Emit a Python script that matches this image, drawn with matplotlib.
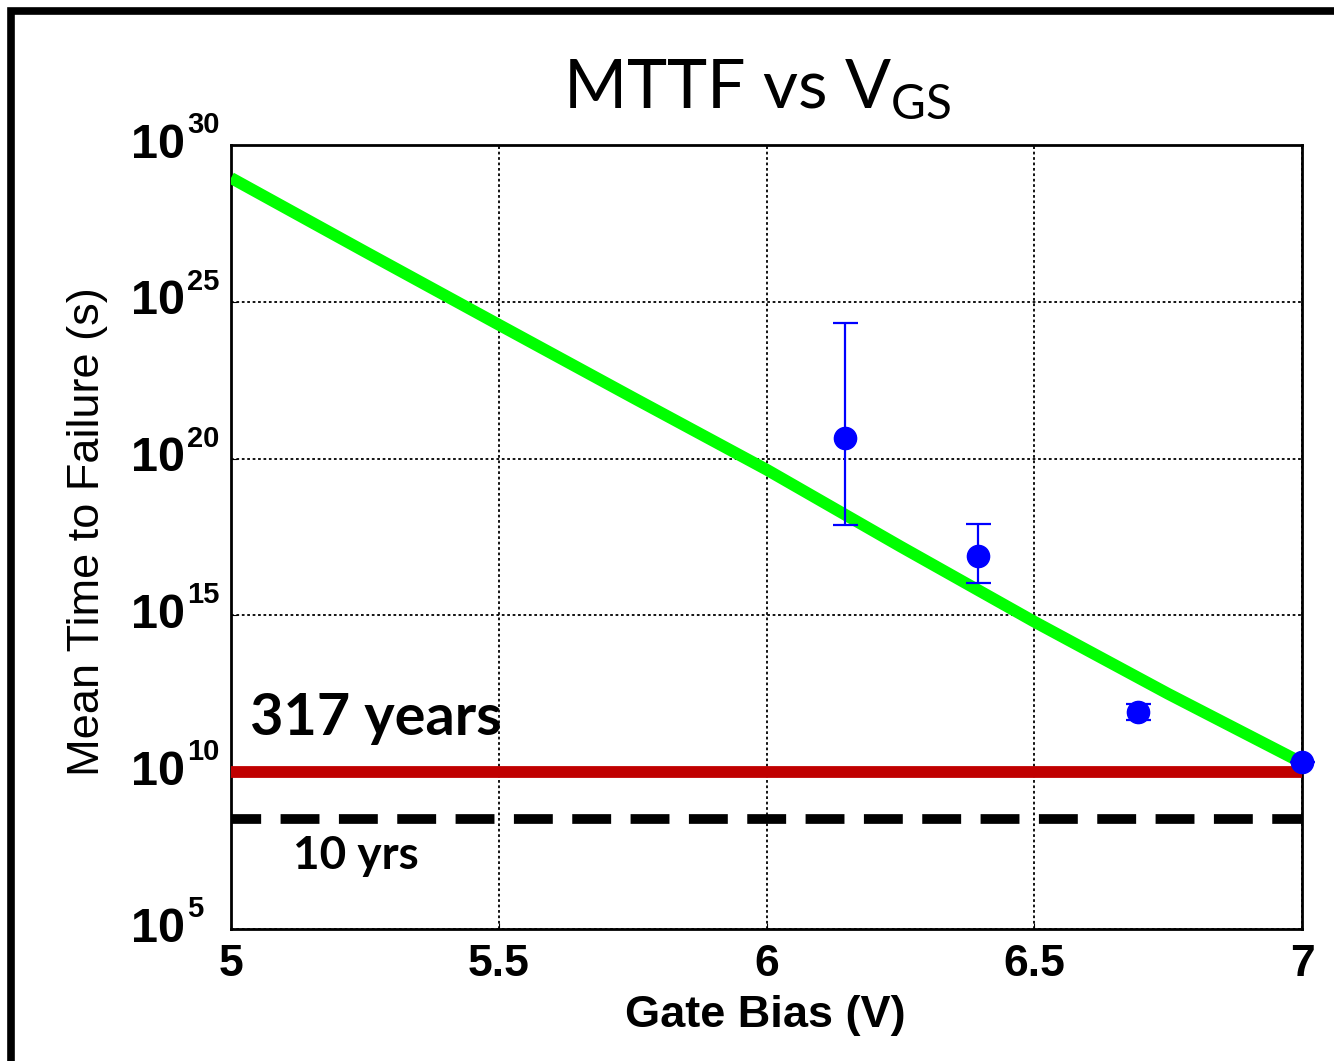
import numpy as np
import matplotlib
matplotlib.use("Agg")
import matplotlib.pyplot as plt
from matplotlib.patches import Rectangle

# ── Data ────────────────────────────────────────────────────
fit_vgs = [5.0, 5.25, 5.5, 5.75, 6.0, 6.25, 6.5, 6.75, 7.0]
fit_log_mttf = [28.95, 26.6, 24.27, 21.95, 19.65, 17.2, 14.8, 12.5, 10.3]

meas_vgs = [6.147, 6.395, 6.694, 7.0]
meas_log_mttf = [20.67, 16.91, 11.91, 10.32]
meas_log_hi = [24.33, 17.93, 12.17, 10.32]
meas_log_lo = [17.87, 16.02, 11.66, 10.32]

limit_317yr = 1e10
limit_10yr = 10 * 365.25 * 24 * 3600

y_decades = [5, 10, 15, 20, 25, 30]
x_ticks = [5, 5.5, 6, 6.5, 7]
x_tick_labels = ["5", "5.5", "6", "6.5", "7"]

# ── Style ───────────────────────────────────────────────────
plt.rcParams["mathtext.fontset"] = "custom"
plt.rcParams["mathtext.rm"] = "Lato"

W, H = 1334, 1061
PT = 72 / 100  # points per pixel
fig = plt.figure(figsize=(W / 100, H / 100), dpi=100)
fig.patch.set_facecolor("white")

# thick frame around the slide (cropped on right / bottom)
fig.patches.append(Rectangle((11 / W, -0.05), 1.2, 1 - 11 / H + 0.05,
                             transform=fig.transFigure, fill=False,
                             edgecolor="black", linewidth=5.5))

ax = fig.add_axes([231 / W, 1 - 929 / H, (1302 - 231) / W, (929 - 145) / H])
ax.set_yscale("log")
ax.set_xlim(5, 7)
ax.set_ylim(1e5, 1e30)

ax.grid(True, which="major", linestyle=(0, (1.5, 1.5)), color="black", linewidth=1.3)
ax.minorticks_off()

# fit line
ax.plot(fit_vgs, 10.0 ** np.array(fit_log_mttf), color="#00ff00", linewidth=8.5,
        solid_capstyle="butt", zorder=3)

# limits
ax.axhline(limit_317yr, color="#c00000", linewidth=8.5, zorder=4)
ax.plot([5, 7], [limit_10yr, limit_10yr], color="black", linewidth=7,
        linestyle=(0.9, (4, 2)), dash_capstyle="butt", zorder=4)

# measured points
y = 10.0 ** np.array(meas_log_mttf)
yerr = [y - 10.0 ** np.array(meas_log_lo), 10.0 ** np.array(meas_log_hi) - y]
ax.errorbar(meas_vgs, y, yerr=yerr, fmt="o", color="#0000ff", markersize=16,
            elinewidth=1.6, capsize=9, capthick=1.6, zorder=5, clip_on=False)

# ticks
ax.set_yticks([10.0 ** d for d in y_decades])
ax.set_yticklabels([])
for d in y_decades:
    ax.annotate("10", xy=(0, 10.0 ** d), xycoords=("axes fraction", "data"),
                xytext=(-46 * PT, 0), textcoords="offset points",
                ha="right", va="center", fontsize=35, fontweight="bold",
                fontfamily="Liberation Sans", annotation_clip=False)
    ax.annotate(str(d), xy=(0, 10.0 ** d), xycoords=("axes fraction", "data"),
                xytext=(-44 * PT, 12 * PT), textcoords="offset points",
                ha="left", va="baseline", fontsize=21, fontweight="bold",
                fontfamily="Liberation Sans", annotation_clip=False)
ax.set_xticks(x_ticks)
ax.set_xticklabels(x_tick_labels, fontfamily="Liberation Sans", fontweight="bold")
ax.tick_params(axis="y", direction="in", length=4)
ax.tick_params(axis="x", labelsize=32, pad=11, direction="in", length=4)
for s in ax.spines.values():
    s.set_linewidth(2)

# annotations
ax.text(5.035, 10 ** 11.2, "317 years", fontsize=41.5, fontweight="bold",
        fontfamily="Lato", va="baseline", ha="left")
ax.text(5.116, 10 ** 6.91, "10 yrs", fontsize=33, fontweight="bold",
        fontfamily="Lato", va="baseline", ha="left")

# title and axis labels
fig.text(757 / W, 1 - 108 / H, r"MTTF vs V$_{\mathrm{GS}}$", fontsize=49,
         fontfamily="Lato", ha="center", va="baseline")
fig.text(765 / W, 1 - 1015 / H, "Gate Bias (V)", fontsize=32.5, fontweight="bold",
         fontfamily="Liberation Sans", ha="center", va="center")
fig.text(88 / W, 1 - 532 / H, "Mean Time to Failure (s)", fontsize=32.5,
         fontfamily="Liberation Sans", rotation=90, ha="center", va="center")

fig.savefig("out.png", dpi=100)
